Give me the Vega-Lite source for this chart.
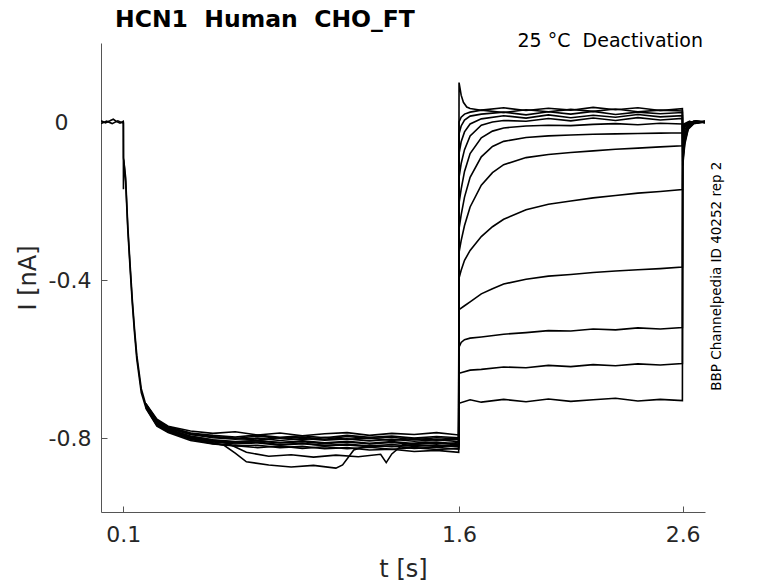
{
  "$schema": "https://vega.github.io/schema/vega-lite/v6.json",
  "autosize": {"type": "none"},
  "width": 604,
  "height": 469,
  "padding": {"left": 101, "top": 43, "right": 73, "bottom": 71},
  "layer": [
    {
      "data": {
        "values": [
          {"s":0,"t":0,"i":0.003},{"s":0,"t":0.02,"i":-0.002},{"s":0,"t":0.04,"i":0.003},{"s":0,"t":0.055,"i":0.007},{"s":0,"t":0.07,"i":0.001},{"s":0,"t":0.085,"i":-0.003},{"s":0,"t":0.0995,"i":0.002},{"s":0,"t":0.1,"i":0.0},{"s":0,"t":0.1005,"i":-0.09},{"s":0,"t":0.11,"i":-0.14},{"s":0,"t":0.12,"i":-0.265},{"s":0,"t":0.13,"i":-0.36},{"s":0,"t":0.14,"i":-0.45},{"s":0,"t":0.15,"i":-0.525},{"s":0,"t":0.16,"i":-0.59},{"s":0,"t":0.18,"i":-0.675},{"s":0,"t":0.2,"i":-0.715},
          {"s":100,"t":0,"i":-0.004},{"s":100,"t":0.025,"i":0.002},{"s":100,"t":0.05,"i":-0.004},{"s":100,"t":0.075,"i":0.003},{"s":100,"t":0.0995,"i":-0.003},{"s":100,"t":0.1,"i":-0.003},{"s":100,"t":0.1003,"i":-0.17},{"s":100,"t":0.1015,"i":-0.095},{"s":100,"t":0.11,"i":-0.15},{"s":100,"t":0.12,"i":-0.275},{"s":100,"t":0.13,"i":-0.37},{"s":100,"t":0.14,"i":-0.46},{"s":100,"t":0.15,"i":-0.535},{"s":100,"t":0.16,"i":-0.6},{"s":100,"t":0.18,"i":-0.685},{"s":100,"t":0.2,"i":-0.722},

          {"s":1,"t":0.2,"i":-0.712},{"s":1,"t":0.25,"i":-0.752},{"s":1,"t":0.3,"i":-0.77},{"s":1,"t":0.4,"i":-0.782},{"s":1,"t":0.5,"i":-0.788},{"s":1,"t":0.6,"i":-0.784},{"s":1,"t":0.7,"i":-0.792},{"s":1,"t":0.8,"i":-0.787},{"s":1,"t":0.9,"i":-0.794},{"s":1,"t":1.0,"i":-0.789},{"s":1,"t":1.1,"i":-0.786},{"s":1,"t":1.2,"i":-0.793},{"s":1,"t":1.3,"i":-0.788},{"s":1,"t":1.4,"i":-0.791},{"s":1,"t":1.5,"i":-0.786},{"s":1,"t":1.599,"i":-0.792},
          {"s":1,"t":1.6005,"i":-0.712},{"s":1,"t":1.65,"i":-0.703},{"s":1,"t":1.7,"i":-0.709},{"s":1,"t":1.8,"i":-0.702},{"s":1,"t":1.9,"i":-0.708},{"s":1,"t":2.0,"i":-0.701},{"s":1,"t":2.1,"i":-0.707},{"s":1,"t":2.2,"i":-0.703},{"s":1,"t":2.3,"i":-0.699},{"s":1,"t":2.4,"i":-0.706},{"s":1,"t":2.5,"i":-0.702},{"s":1,"t":2.599,"i":-0.705},
          {"s":1,"t":2.6005,"i":-0.006},{"s":1,"t":2.63,"i":0.002},{"s":1,"t":2.66,"i":-0.002},{"s":1,"t":2.7,"i":0.001},

          {"s":2,"t":0.2,"i":-0.716},{"s":2,"t":0.25,"i":-0.758},{"s":2,"t":0.3,"i":-0.774},{"s":2,"t":0.4,"i":-0.79},{"s":2,"t":0.5,"i":-0.796},{"s":2,"t":0.6,"i":-0.801},{"s":2,"t":0.7,"i":-0.795},{"s":2,"t":0.8,"i":-0.8},{"s":2,"t":0.9,"i":-0.797},{"s":2,"t":1.0,"i":-0.803},{"s":2,"t":1.1,"i":-0.796},{"s":2,"t":1.2,"i":-0.801},{"s":2,"t":1.3,"i":-0.798},{"s":2,"t":1.4,"i":-0.804},{"s":2,"t":1.5,"i":-0.799},{"s":2,"t":1.599,"i":-0.802},
          {"s":2,"t":1.6005,"i":-0.636},{"s":2,"t":1.65,"i":-0.628},{"s":2,"t":1.7,"i":-0.626},{"s":2,"t":1.8,"i":-0.62},{"s":2,"t":1.9,"i":-0.622},{"s":2,"t":2.0,"i":-0.616},{"s":2,"t":2.1,"i":-0.619},{"s":2,"t":2.2,"i":-0.614},{"s":2,"t":2.3,"i":-0.617},{"s":2,"t":2.4,"i":-0.612},{"s":2,"t":2.5,"i":-0.615},{"s":2,"t":2.599,"i":-0.611},
          {"s":2,"t":2.6005,"i":-0.008},{"s":2,"t":2.63,"i":-0.001},{"s":2,"t":2.66,"i":0.003},{"s":2,"t":2.7,"i":-0.002},

          {"s":3,"t":0.2,"i":-0.718},{"s":3,"t":0.25,"i":-0.762},{"s":3,"t":0.3,"i":-0.778},{"s":3,"t":0.4,"i":-0.795},{"s":3,"t":0.5,"i":-0.805},{"s":3,"t":0.56,"i":-0.812},{"s":3,"t":0.65,"i":-0.836},{"s":3,"t":0.75,"i":-0.846},{"s":3,"t":0.85,"i":-0.842},{"s":3,"t":0.95,"i":-0.848},{"s":3,"t":1.05,"i":-0.843},{"s":3,"t":1.15,"i":-0.847},{"s":3,"t":1.25,"i":-0.841},{"s":3,"t":1.275,"i":-0.862},{"s":3,"t":1.3,"i":-0.84},{"s":3,"t":1.35,"i":-0.816},{"s":3,"t":1.45,"i":-0.81},{"s":3,"t":1.55,"i":-0.814},{"s":3,"t":1.599,"i":-0.811},
          {"s":3,"t":1.6005,"i":-0.57},{"s":3,"t":1.61,"i":-0.558},{"s":3,"t":1.625,"i":-0.551},{"s":3,"t":1.65,"i":-0.547},{"s":3,"t":1.7,"i":-0.544},{"s":3,"t":1.8,"i":-0.537},{"s":3,"t":1.9,"i":-0.533},{"s":3,"t":2.0,"i":-0.528},{"s":3,"t":2.1,"i":-0.529},{"s":3,"t":2.2,"i":-0.524},{"s":3,"t":2.3,"i":-0.526},{"s":3,"t":2.4,"i":-0.521},{"s":3,"t":2.5,"i":-0.524},{"s":3,"t":2.599,"i":-0.52},
          {"s":3,"t":2.6005,"i":-0.01},{"s":3,"t":2.63,"i":0.001},{"s":3,"t":2.66,"i":-0.003},{"s":3,"t":2.7,"i":0.002},

          {"s":4,"t":0.2,"i":-0.72},{"s":4,"t":0.25,"i":-0.765},{"s":4,"t":0.3,"i":-0.782},{"s":4,"t":0.4,"i":-0.8},{"s":4,"t":0.5,"i":-0.808},{"s":4,"t":0.6,"i":-0.812},{"s":4,"t":0.7,"i":-0.81},{"s":4,"t":0.8,"i":-0.816},{"s":4,"t":0.9,"i":-0.813},{"s":4,"t":1.0,"i":-0.819},{"s":4,"t":1.1,"i":-0.817},{"s":4,"t":1.2,"i":-0.822},{"s":4,"t":1.3,"i":-0.82},{"s":4,"t":1.4,"i":-0.826},{"s":4,"t":1.5,"i":-0.823},{"s":4,"t":1.599,"i":-0.828},
          {"s":4,"t":1.6005,"i":-0.475},{"s":4,"t":1.625,"i":-0.465},{"s":4,"t":1.65,"i":-0.455},{"s":4,"t":1.7,"i":-0.435},{"s":4,"t":1.75,"i":-0.422},{"s":4,"t":1.8,"i":-0.41},{"s":4,"t":1.9,"i":-0.398},{"s":4,"t":2.0,"i":-0.39},{"s":4,"t":2.1,"i":-0.386},{"s":4,"t":2.2,"i":-0.381},{"s":4,"t":2.3,"i":-0.377},{"s":4,"t":2.4,"i":-0.374},{"s":4,"t":2.5,"i":-0.371},{"s":4,"t":2.599,"i":-0.367},
          {"s":4,"t":2.6005,"i":-0.012},{"s":4,"t":2.63,"i":-0.002},{"s":4,"t":2.66,"i":0.002},{"s":4,"t":2.7,"i":0.0},

          {"s":5,"t":0.2,"i":-0.722},{"s":5,"t":0.25,"i":-0.768},{"s":5,"t":0.3,"i":-0.784},{"s":5,"t":0.4,"i":-0.802},{"s":5,"t":0.5,"i":-0.812},{"s":5,"t":0.55,"i":-0.818},{"s":5,"t":0.6,"i":-0.838},{"s":5,"t":0.65,"i":-0.86},{"s":5,"t":0.75,"i":-0.868},{"s":5,"t":0.85,"i":-0.873},{"s":5,"t":0.95,"i":-0.869},{"s":5,"t":1.05,"i":-0.876},{"s":5,"t":1.08,"i":-0.868},{"s":5,"t":1.13,"i":-0.83},{"s":5,"t":1.2,"i":-0.818},{"s":5,"t":1.3,"i":-0.822},{"s":5,"t":1.4,"i":-0.817},{"s":5,"t":1.5,"i":-0.821},{"s":5,"t":1.599,"i":-0.819},
          {"s":5,"t":1.6005,"i":-0.395},{"s":5,"t":1.61,"i":-0.375},{"s":5,"t":1.625,"i":-0.35},{"s":5,"t":1.65,"i":-0.325},{"s":5,"t":1.7,"i":-0.29},{"s":5,"t":1.75,"i":-0.265},{"s":5,"t":1.8,"i":-0.246},{"s":5,"t":1.9,"i":-0.222},{"s":5,"t":2.0,"i":-0.208},{"s":5,"t":2.1,"i":-0.2},{"s":5,"t":2.2,"i":-0.192},{"s":5,"t":2.3,"i":-0.186},{"s":5,"t":2.4,"i":-0.18},{"s":5,"t":2.5,"i":-0.176},{"s":5,"t":2.599,"i":-0.171},
          {"s":5,"t":2.6005,"i":-0.015},{"s":5,"t":2.63,"i":-0.003},{"s":5,"t":2.66,"i":0.001},{"s":5,"t":2.7,"i":-0.001},

          {"s":6,"t":0.2,"i":-0.724},{"s":6,"t":0.25,"i":-0.77},{"s":6,"t":0.3,"i":-0.786},{"s":6,"t":0.4,"i":-0.806},{"s":6,"t":0.5,"i":-0.815},{"s":6,"t":0.6,"i":-0.82},{"s":6,"t":0.7,"i":-0.818},{"s":6,"t":0.8,"i":-0.824},{"s":6,"t":0.9,"i":-0.821},{"s":6,"t":1.0,"i":-0.827},{"s":6,"t":1.1,"i":-0.824},{"s":6,"t":1.2,"i":-0.83},{"s":6,"t":1.3,"i":-0.828},{"s":6,"t":1.4,"i":-0.834},{"s":6,"t":1.5,"i":-0.831},{"s":6,"t":1.599,"i":-0.836},
          {"s":6,"t":1.6005,"i":-0.33},{"s":6,"t":1.61,"i":-0.3},{"s":6,"t":1.625,"i":-0.262},{"s":6,"t":1.65,"i":-0.215},{"s":6,"t":1.7,"i":-0.16},{"s":6,"t":1.75,"i":-0.128},{"s":6,"t":1.8,"i":-0.108},{"s":6,"t":1.9,"i":-0.09},{"s":6,"t":2.0,"i":-0.082},{"s":6,"t":2.1,"i":-0.077},{"s":6,"t":2.2,"i":-0.073},{"s":6,"t":2.3,"i":-0.069},{"s":6,"t":2.4,"i":-0.066},{"s":6,"t":2.5,"i":-0.063},{"s":6,"t":2.599,"i":-0.06},
          {"s":6,"t":2.6005,"i":-0.02},{"s":6,"t":2.62,"i":-0.006},{"s":6,"t":2.65,"i":0.002},{"s":6,"t":2.7,"i":0.0},

          {"s":7,"t":0.2,"i":-0.713},{"s":7,"t":0.25,"i":-0.755},{"s":7,"t":0.3,"i":-0.772},{"s":7,"t":0.4,"i":-0.788},{"s":7,"t":0.5,"i":-0.797},{"s":7,"t":0.6,"i":-0.8},{"s":7,"t":0.7,"i":-0.805},{"s":7,"t":0.8,"i":-0.799},{"s":7,"t":0.9,"i":-0.804},{"s":7,"t":1.0,"i":-0.798},{"s":7,"t":1.1,"i":-0.803},{"s":7,"t":1.2,"i":-0.8},{"s":7,"t":1.3,"i":-0.806},{"s":7,"t":1.4,"i":-0.801},{"s":7,"t":1.5,"i":-0.805},{"s":7,"t":1.599,"i":-0.803},
          {"s":7,"t":1.6005,"i":-0.27},{"s":7,"t":1.61,"i":-0.235},{"s":7,"t":1.625,"i":-0.19},{"s":7,"t":1.65,"i":-0.14},{"s":7,"t":1.7,"i":-0.088},{"s":7,"t":1.75,"i":-0.062},{"s":7,"t":1.8,"i":-0.049},{"s":7,"t":1.9,"i":-0.039},{"s":7,"t":2.0,"i":-0.035},{"s":7,"t":2.1,"i":-0.033},{"s":7,"t":2.2,"i":-0.031},{"s":7,"t":2.3,"i":-0.03},{"s":7,"t":2.4,"i":-0.029},{"s":7,"t":2.5,"i":-0.028},{"s":7,"t":2.599,"i":-0.027},
          {"s":7,"t":2.6005,"i":-0.03},{"s":7,"t":2.61,"i":-0.012},{"s":7,"t":2.63,"i":-0.002},{"s":7,"t":2.66,"i":0.002},{"s":7,"t":2.7,"i":-0.001},

          {"s":8,"t":0.2,"i":-0.721},{"s":8,"t":0.25,"i":-0.766},{"s":8,"t":0.3,"i":-0.783},{"s":8,"t":0.4,"i":-0.803},{"s":8,"t":0.5,"i":-0.814},{"s":8,"t":0.6,"i":-0.819},{"s":8,"t":0.7,"i":-0.824},{"s":8,"t":0.8,"i":-0.82},{"s":8,"t":0.9,"i":-0.826},{"s":8,"t":1.0,"i":-0.822},{"s":8,"t":1.1,"i":-0.827},{"s":8,"t":1.2,"i":-0.823},{"s":8,"t":1.3,"i":-0.828},{"s":8,"t":1.4,"i":-0.824},{"s":8,"t":1.5,"i":-0.829},{"s":8,"t":1.599,"i":-0.826},
          {"s":8,"t":1.6005,"i":-0.205},{"s":8,"t":1.61,"i":-0.17},{"s":8,"t":1.625,"i":-0.125},{"s":8,"t":1.65,"i":-0.08},{"s":8,"t":1.7,"i":-0.04},{"s":8,"t":1.75,"i":-0.023},{"s":8,"t":1.8,"i":-0.015},{"s":8,"t":1.9,"i":-0.01},{"s":8,"t":2.0,"i":-0.008},{"s":8,"t":2.1,"i":-0.009},{"s":8,"t":2.2,"i":-0.006},{"s":8,"t":2.3,"i":-0.004},{"s":8,"t":2.4,"i":-0.007},{"s":8,"t":2.5,"i":-0.003},{"s":8,"t":2.599,"i":-0.005},
          {"s":8,"t":2.6005,"i":-0.045},{"s":8,"t":2.61,"i":-0.02},{"s":8,"t":2.625,"i":-0.006},{"s":8,"t":2.65,"i":0.002},{"s":8,"t":2.7,"i":0.001},

          {"s":9,"t":0.2,"i":-0.717},{"s":9,"t":0.25,"i":-0.76},{"s":9,"t":0.3,"i":-0.777},{"s":9,"t":0.4,"i":-0.796},{"s":9,"t":0.5,"i":-0.804},{"s":9,"t":0.6,"i":-0.809},{"s":9,"t":0.7,"i":-0.806},{"s":9,"t":0.8,"i":-0.811},{"s":9,"t":0.9,"i":-0.807},{"s":9,"t":1.0,"i":-0.812},{"s":9,"t":1.1,"i":-0.808},{"s":9,"t":1.2,"i":-0.813},{"s":9,"t":1.3,"i":-0.809},{"s":9,"t":1.4,"i":-0.814},{"s":9,"t":1.5,"i":-0.81},{"s":9,"t":1.599,"i":-0.815},
          {"s":9,"t":1.6005,"i":-0.14},{"s":9,"t":1.61,"i":-0.105},{"s":9,"t":1.625,"i":-0.07},{"s":9,"t":1.65,"i":-0.035},{"s":9,"t":1.7,"i":-0.008},{"s":9,"t":1.75,"i":0.0},{"s":9,"t":1.8,"i":0.004},{"s":9,"t":1.9,"i":0.002},{"s":9,"t":2.0,"i":0.009},{"s":9,"t":2.1,"i":0.003},{"s":9,"t":2.2,"i":0.01},{"s":9,"t":2.3,"i":0.004},{"s":9,"t":2.4,"i":0.011},{"s":9,"t":2.5,"i":0.005},{"s":9,"t":2.599,"i":0.009},
          {"s":9,"t":2.6005,"i":-0.06},{"s":9,"t":2.61,"i":-0.028},{"s":9,"t":2.625,"i":-0.008},{"s":9,"t":2.65,"i":0.001},{"s":9,"t":2.7,"i":-0.002},

          {"s":10,"t":0.2,"i":-0.714},{"s":10,"t":0.25,"i":-0.756},{"s":10,"t":0.3,"i":-0.771},{"s":10,"t":0.4,"i":-0.787},{"s":10,"t":0.5,"i":-0.793},{"s":10,"t":0.6,"i":-0.797},{"s":10,"t":0.7,"i":-0.792},{"s":10,"t":0.8,"i":-0.798},{"s":10,"t":0.9,"i":-0.794},{"s":10,"t":1.0,"i":-0.799},{"s":10,"t":1.1,"i":-0.793},{"s":10,"t":1.2,"i":-0.798},{"s":10,"t":1.3,"i":-0.795},{"s":10,"t":1.4,"i":-0.8},{"s":10,"t":1.5,"i":-0.796},{"s":10,"t":1.599,"i":-0.799},
          {"s":10,"t":1.6005,"i":-0.08},{"s":10,"t":1.61,"i":-0.05},{"s":10,"t":1.625,"i":-0.025},{"s":10,"t":1.65,"i":-0.005},{"s":10,"t":1.7,"i":0.008},{"s":10,"t":1.8,"i":0.016},{"s":10,"t":1.9,"i":0.01},{"s":10,"t":2.0,"i":0.018},{"s":10,"t":2.1,"i":0.011},{"s":10,"t":2.2,"i":0.017},{"s":10,"t":2.3,"i":0.012},{"s":10,"t":2.4,"i":0.019},{"s":10,"t":2.5,"i":0.013},{"s":10,"t":2.599,"i":0.016},
          {"s":10,"t":2.6005,"i":-0.075},{"s":10,"t":2.61,"i":-0.035},{"s":10,"t":2.625,"i":-0.01},{"s":10,"t":2.65,"i":0.0},{"s":10,"t":2.7,"i":0.002},

          {"s":11,"t":0.2,"i":-0.719},{"s":11,"t":0.25,"i":-0.764},{"s":11,"t":0.3,"i":-0.78},{"s":11,"t":0.4,"i":-0.799},{"s":11,"t":0.5,"i":-0.81},{"s":11,"t":0.6,"i":-0.815},{"s":11,"t":0.7,"i":-0.812},{"s":11,"t":0.8,"i":-0.818},{"s":11,"t":0.9,"i":-0.814},{"s":11,"t":1.0,"i":-0.819},{"s":11,"t":1.1,"i":-0.815},{"s":11,"t":1.2,"i":-0.82},{"s":11,"t":1.3,"i":-0.816},{"s":11,"t":1.4,"i":-0.821},{"s":11,"t":1.5,"i":-0.817},{"s":11,"t":1.599,"i":-0.822},
          {"s":11,"t":1.6005,"i":-0.03},{"s":11,"t":1.61,"i":-0.01},{"s":11,"t":1.625,"i":0.005},{"s":11,"t":1.65,"i":0.015},{"s":11,"t":1.7,"i":0.02},{"s":11,"t":1.8,"i":0.025},{"s":11,"t":1.9,"i":0.018},{"s":11,"t":2.0,"i":0.026},{"s":11,"t":2.1,"i":0.02},{"s":11,"t":2.2,"i":0.027},{"s":11,"t":2.3,"i":0.019},{"s":11,"t":2.4,"i":0.025},{"s":11,"t":2.5,"i":0.021},{"s":11,"t":2.599,"i":0.024},
          {"s":11,"t":2.6005,"i":-0.09},{"s":11,"t":2.61,"i":-0.045},{"s":11,"t":2.625,"i":-0.014},{"s":11,"t":2.65,"i":-0.002},{"s":11,"t":2.7,"i":0.001},

          {"s":12,"t":0.2,"i":-0.715},{"s":12,"t":0.25,"i":-0.758},{"s":12,"t":0.3,"i":-0.775},{"s":12,"t":0.4,"i":-0.791},{"s":12,"t":0.5,"i":-0.799},{"s":12,"t":0.6,"i":-0.803},{"s":12,"t":0.7,"i":-0.8},{"s":12,"t":0.8,"i":-0.806},{"s":12,"t":0.9,"i":-0.801},{"s":12,"t":1.0,"i":-0.805},{"s":12,"t":1.1,"i":-0.802},{"s":12,"t":1.2,"i":-0.807},{"s":12,"t":1.3,"i":-0.803},{"s":12,"t":1.4,"i":-0.808},{"s":12,"t":1.5,"i":-0.804},{"s":12,"t":1.599,"i":-0.809},
          {"s":12,"t":1.6005,"i":0.0},{"s":12,"t":1.61,"i":0.012},{"s":12,"t":1.625,"i":0.02},{"s":12,"t":1.65,"i":0.025},{"s":12,"t":1.7,"i":0.03},{"s":12,"t":1.8,"i":0.024},{"s":12,"t":1.9,"i":0.031},{"s":12,"t":2.0,"i":0.026},{"s":12,"t":2.1,"i":0.032},{"s":12,"t":2.2,"i":0.027},{"s":12,"t":2.3,"i":0.033},{"s":12,"t":2.4,"i":0.026},{"s":12,"t":2.5,"i":0.03},{"s":12,"t":2.599,"i":0.028},
          {"s":12,"t":2.6005,"i":-0.1},{"s":12,"t":2.61,"i":-0.05},{"s":12,"t":2.625,"i":-0.016},{"s":12,"t":2.65,"i":-0.003},{"s":12,"t":2.7,"i":0.0},

          {"s":13,"t":0.2,"i":-0.718},{"s":13,"t":0.25,"i":-0.762},{"s":13,"t":0.3,"i":-0.779},{"s":13,"t":0.4,"i":-0.797},{"s":13,"t":0.5,"i":-0.806},{"s":13,"t":0.6,"i":-0.81},{"s":13,"t":0.7,"i":-0.807},{"s":13,"t":0.8,"i":-0.812},{"s":13,"t":0.9,"i":-0.809},{"s":13,"t":1.0,"i":-0.814},{"s":13,"t":1.1,"i":-0.81},{"s":13,"t":1.2,"i":-0.815},{"s":13,"t":1.3,"i":-0.811},{"s":13,"t":1.4,"i":-0.816},{"s":13,"t":1.5,"i":-0.812},{"s":13,"t":1.599,"i":-0.817},
          {"s":13,"t":1.6005,"i":0.1},{"s":13,"t":1.605,"i":0.085},{"s":13,"t":1.61,"i":0.068},{"s":13,"t":1.62,"i":0.05},{"s":13,"t":1.635,"i":0.038},{"s":13,"t":1.65,"i":0.034},{"s":13,"t":1.7,"i":0.03},{"s":13,"t":1.8,"i":0.036},{"s":13,"t":1.9,"i":0.029},{"s":13,"t":2.0,"i":0.035},{"s":13,"t":2.1,"i":0.03},{"s":13,"t":2.2,"i":0.037},{"s":13,"t":2.3,"i":0.031},{"s":13,"t":2.4,"i":0.036},{"s":13,"t":2.5,"i":0.029},{"s":13,"t":2.599,"i":0.034},
          {"s":13,"t":2.6005,"i":-0.11},{"s":13,"t":2.61,"i":-0.055},{"s":13,"t":2.625,"i":-0.018},{"s":13,"t":2.65,"i":-0.004},{"s":13,"t":2.7,"i":0.001}
        ]
      },
      "mark": {"type": "line", "color": "#000000", "strokeWidth": 1.6, "clip": true},
      "encoding": {
        "x": {
          "field": "t",
          "type": "quantitative",
          "title": "t [s]",
          "scale": {"domain": [0, 2.7], "nice": false, "zero": false},
          "axis": {
            "values": [0.1, 1.6, 2.6],
            "format": ".1f",
            "labelPadding": 18,
            "titlePadding": 12
          }
        },
        "y": {
          "field": "i",
          "type": "quantitative",
          "title": "I [nA]",
          "scale": {"domain": [-0.987, 0.2], "nice": false, "zero": false},
          "axis": {
            "values": [-0.8, -0.4, 0],
            "labelExpr": "datum.value == 0 ? '0' : (datum.value < 0 ? '-' + format(-datum.value, '.1f') : format(datum.value, '.1f'))",
            "labelPadding": {"condition": {"test": "datum.value == 0", "value": 39}, "value": 16},
            "titlePadding": 8
          }
        },
        "detail": {"field": "s", "type": "nominal"}
      }
    },
    {
      "data": {"values": [{}]},
      "mark": {
        "type": "text",
        "text": "HCN1\u00a0 Human\u00a0 CHO_FT",
        "align": "left",
        "baseline": "alphabetic",
        "dx": 14,
        "dy": -16,
        "fontSize": 23.5,
        "fontWeight": "bold",
        "color": "#000000",
        "font": "DejaVu Sans"
      },
      "encoding": {
        "x": {"datum": 0, "type": "quantitative", "title": "t [s]"},
        "y": {"datum": 0.2, "type": "quantitative", "title": "I [nA]"}
      }
    },
    {
      "data": {"values": [{}]},
      "mark": {
        "type": "text",
        "text": "25 °C\u00a0 Deactivation",
        "align": "right",
        "baseline": "alphabetic",
        "dx": -2,
        "dy": 4,
        "fontSize": 19,
        "color": "#000000",
        "font": "DejaVu Sans"
      },
      "encoding": {
        "x": {"datum": 2.7, "type": "quantitative", "title": "t [s]"},
        "y": {"datum": 0.2, "type": "quantitative", "title": "I [nA]"}
      }
    },
    {
      "data": {"values": [{}]},
      "mark": {
        "type": "text",
        "text": "BBP Channelpedia ID 40252 rep 2",
        "align": "center",
        "baseline": "middle",
        "angle": 270,
        "dy": 12,
        "fontSize": 13.5,
        "color": "#000000",
        "font": "DejaVu Sans"
      },
      "encoding": {
        "x": {"datum": 2.7, "type": "quantitative", "title": "t [s]"},
        "y": {"datum": -0.39, "type": "quantitative", "title": "I [nA]"}
      }
    }
  ],
  "config": {
    "view": {"stroke": null},
    "font": "DejaVu Sans",
    "axis": {
      "grid": false,
      "tickSize": -6,
      "tickColor": "#555555",
      "domainColor": "#555555",
      "labelColor": "#262626",
      "titleColor": "#262626",
      "labelFont": "DejaVu Sans",
      "titleFont": "DejaVu Sans",
      "labelFontSize": 22,
      "titleFontSize": 24,
      "titleFontWeight": "normal"
    }
  }
}
